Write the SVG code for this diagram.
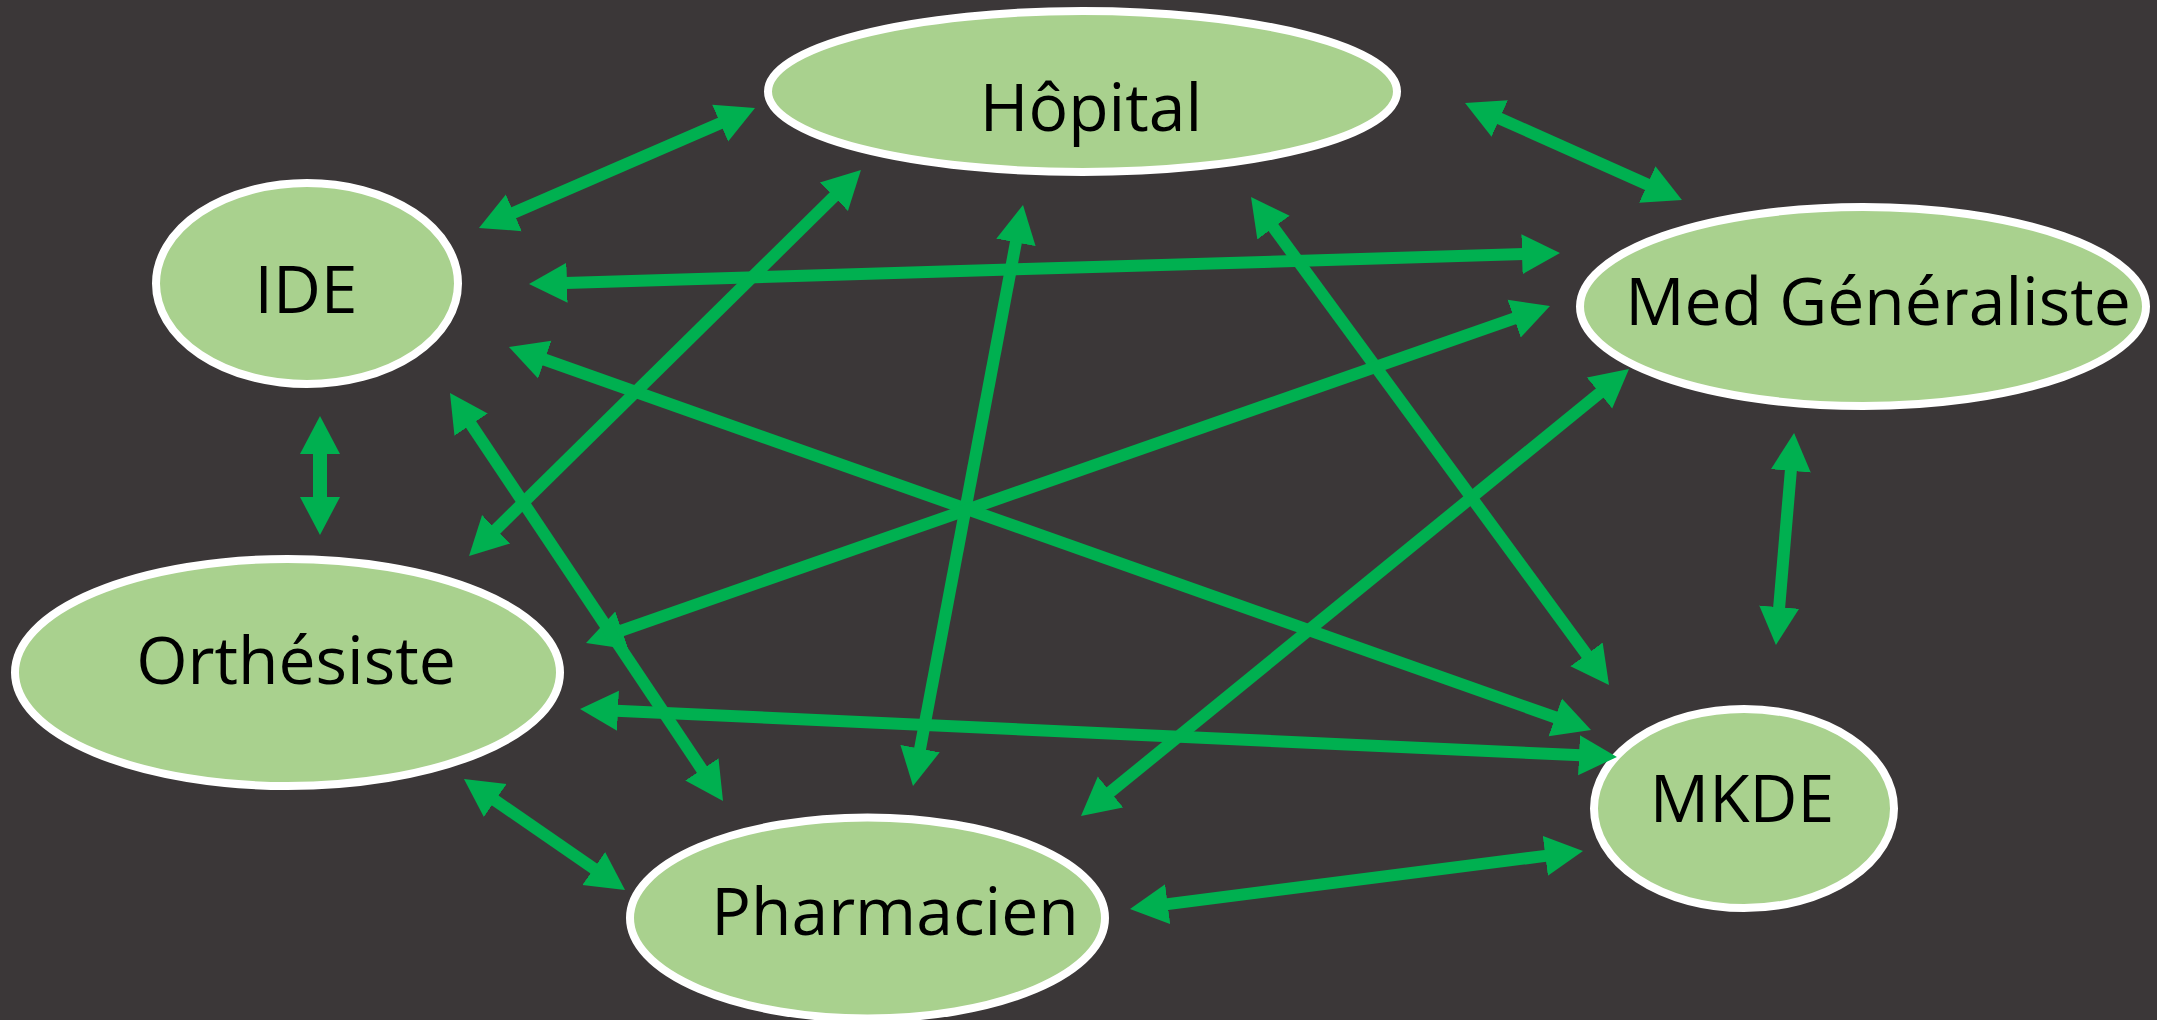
<svg xmlns="http://www.w3.org/2000/svg" width="2157" height="1020" viewBox="0 0 2157 1020">
  <style>
    .node ellipse { fill: #A9D18E; stroke: #FFFFFF; stroke-width: 8; }
    .node text { font-family: "Open Sans", "Noto Sans", "Liberation Sans", sans-serif; font-size: 66px; fill: #000000; text-anchor: middle; }
    #connectors line { stroke: #00B050; stroke-width: 12; marker-start: url(#head); marker-end: url(#head); }
  </style>
  <defs>
    <marker id="head" markerUnits="userSpaceOnUse" markerWidth="42" markerHeight="42" viewBox="0 -21 42 42" refX="2" refY="0" orient="auto-start-reverse">
      <path d="M0,-20 L38,0 L0,20 Z" fill="#00B050"/>
    </marker>
  </defs>
  <rect x="0" y="0" width="2157" height="1020" fill="#3B3738"/>

  <g id="node-hopital" class="node">
    <ellipse cx="1082.5" cy="91.5" rx="314.5" ry="80.5"/>
    <text x="1091" y="131">Hôpital</text>
  </g>
  <g id="node-ide" class="node">
    <ellipse cx="307" cy="283.5" rx="151" ry="100.5"/>
    <text x="306" y="313">IDE</text>
  </g>
  <g id="node-medgen" class="node">
    <ellipse cx="1863" cy="306.5" rx="283" ry="99.5"/>
    <text x="1878" y="325">Med Généraliste</text>
  </g>
  <g id="node-orthesiste" class="node">
    <ellipse cx="287.5" cy="672.5" rx="272.5" ry="113.5"/>
    <text x="296" y="684">Orthésiste</text>
  </g>
  <g id="node-pharmacien" class="node">
    <ellipse cx="867.5" cy="918" rx="237.5" ry="100.5"/>
    <text x="895" y="935">Pharmacien</text>
  </g>
  <g id="node-mkde" class="node">
    <ellipse cx="1744" cy="808.5" rx="150" ry="99.5"/>
    <text x="1742" y="822">MKDE</text>
  </g>

  <g id="connectors">
    <line x1="512.0" y1="213.6" x2="722.0" y2="122.4"/>
    <line x1="1497.9" y1="117.7" x2="1649.1" y2="185.3"/>
    <line x1="565.0" y1="282.9" x2="1524.0" y2="254.1"/>
    <line x1="835.3" y1="195.3" x2="494.7" y2="530.7"/>
    <line x1="1016.3" y1="240.4" x2="919.7" y2="750.6"/>
    <line x1="1272.3" y1="226.0" x2="1587.7" y2="656.0"/>
    <line x1="542.9" y1="359.0" x2="1557.1" y2="718.0"/>
    <line x1="1516.0" y1="317.9" x2="620.0" y2="631.1"/>
    <line x1="1601.1" y1="391.8" x2="1108.9" y2="793.2"/>
    <line x1="470.0" y1="422.9" x2="703.0" y2="771.1"/>
    <line x1="320" y1="452" x2="320" y2="499" style="stroke-width:14"/>
    <line x1="1791.0" y1="468.9" x2="1779.0" y2="609.1"/>
    <line x1="616.0" y1="710.7" x2="1581.0" y2="755.3"/>
    <line x1="493.6" y1="799.4" x2="595.4" y2="869.6"/>
    <line x1="1165.7" y1="904.4" x2="1547.3" y2="855.6"/>
  </g>
</svg>
